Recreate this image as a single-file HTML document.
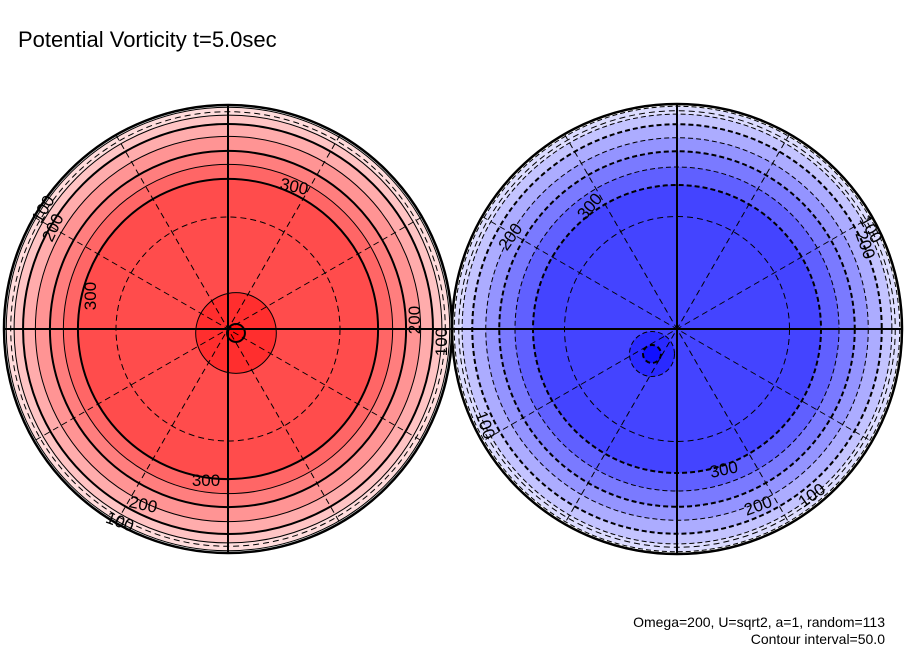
<!DOCTYPE html>
<html><head><meta charset="utf-8"><style>
body{margin:0;background:#fff;width:904px;height:654px;overflow:hidden;font-family:"Liberation Sans",sans-serif}
svg{display:block}
</style></head><body>
<svg id="chart" width="904" height="654" viewBox="0 0 904 654">
<text x="18" y="47" font-size="22" fill="#000" font-family="Liberation Sans, sans-serif">Potential Vorticity t=5.0sec</text>
<g id="left"></g>
<g id="right"></g>
<text x="885" y="627" font-size="14" text-anchor="end" fill="#000">Omega=200, U=sqrt2, a=1, random=113</text>
<text x="885" y="644" font-size="14" text-anchor="end" fill="#000">Contour interval=50.0</text>
</svg>
<script>
// contour levels and the approximate radial extent of each level (fraction of disc radius)
const levels = [0, 50, 100, 150, 200, 250, 300, 350, 400];
const leftExtent = [0.99, 0.955, 0.915, 0.86, 0.795, 0.735, 0.67, 0.18, 0.04];
const rightExtent = [0.99, 0.955, 0.91, 0.85, 0.79, 0.72, 0.64, 0.1, 0.04];
const leftColors = ["#ffdcdc","#ffc4c4","#ffacac","#ff9494","#ff7e7e","#ff6666","#ff4c4c","#ff2e2e","#ff1010"];
const rightColors = ["#dcdcff","#c4c4ff","#acacff","#9494ff","#7a7aff","#6060ff","#4444ff","#2a2aff","#1010ff"];
const contourLabels = ["100","200","300"];

const NS="http://www.w3.org/2000/svg";
function mk(tag,attrs,parent){const e=document.createElementNS(NS,tag);for(const k in attrs)e.setAttribute(k,attrs[k]);parent.appendChild(e);return e;}
function rScale(frac,R){return frac*R;}

function drawDisc(g,cx,cy,R,extent,colors,dashed,coreOff){
  for(let i=0;i<levels.length;i++){
    const isCore=i>=7;
    const c=mk('circle',{cx:cx+(isCore?coreOff[0]:0),cy:cy+(isCore?coreOff[1]:0),r:rScale(extent[i],R),fill:colors[i],stroke:'#000','stroke-width':(levels[i]%100===0&&i>0)?2:1,'stroke-dasharray':dashed?'5,3':'none'},g);
    
    
  }
  // grid: latitude circles
  [0.5,0.97].forEach(f=>{
    const c=mk('circle',{cx:cx,cy:cy,r:f*R,fill:'none',stroke:'#000','stroke-width':1,'stroke-dasharray':'6,4'},g);
    
    
  });
  for(let a=0;a<180;a+=30){
    if(a===0||a===90)continue;
    const t=a*Math.PI/180;
    const l=mk('line',{x1:cx-Math.cos(t)*R,y1:cy-Math.sin(t)*R,x2:cx+Math.cos(t)*R,y2:cy+Math.sin(t)*R,stroke:'#000','stroke-width':1,'stroke-dasharray':'6,4'},g);
    
    
  }
  const h=mk('line',{x1:cx-R,y1:cy,x2:cx+R,y2:cy,stroke:'#000','stroke-width':2},g);
  
  
  const v=mk('line',{x1:cx,y1:cy-R,x2:cx,y2:cy+R,stroke:'#000','stroke-width':2},g);
  
  
  const o=mk('circle',{cx:cx,cy:cy,r:R,fill:'none',stroke:'#000','stroke-width':2.5},g);
  
  
}
function label(g,x,y,txt,rot){
  const t=mk('text',{x:x,y:y,'font-size':17,'text-anchor':'middle',transform:'rotate('+rot+' '+x+' '+y+')',fill:'#000'},g);
  t.textContent=txt;
  
  
}
const L=document.getElementById('left'),Rg=document.getElementById('right');
drawDisc(L,228,329,224,leftExtent,leftColors,false,[8,4]);
drawDisc(Rg,677,329,225,rightExtent,rightColors,true,[-25,25]);
label(L,206,486,contourLabels[2],0);label(L,142,510,contourLabels[1],12);label(L,118,527,contourLabels[0],20);
label(L,293,192,contourLabels[2],12);label(L,96,296,contourLabels[2],-90);label(L,58,230,contourLabels[1],-65);label(L,48,212,contourLabels[0],-60);
label(L,420,320,contourLabels[1],-90);label(L,447,342,contourLabels[0],-90);
label(Rg,725,475,contourLabels[2],-12);label(Rg,760,511,contourLabels[1],-20);label(Rg,815,500,contourLabels[0],-35);
label(Rg,594,210,contourLabels[2],-50);label(Rg,515,240,contourLabels[1],-55);
label(Rg,860,247,contourLabels[1],70);label(Rg,866,232,contourLabels[0],60);label(Rg,480,427,contourLabels[0],70);
</script>
</body></html>
